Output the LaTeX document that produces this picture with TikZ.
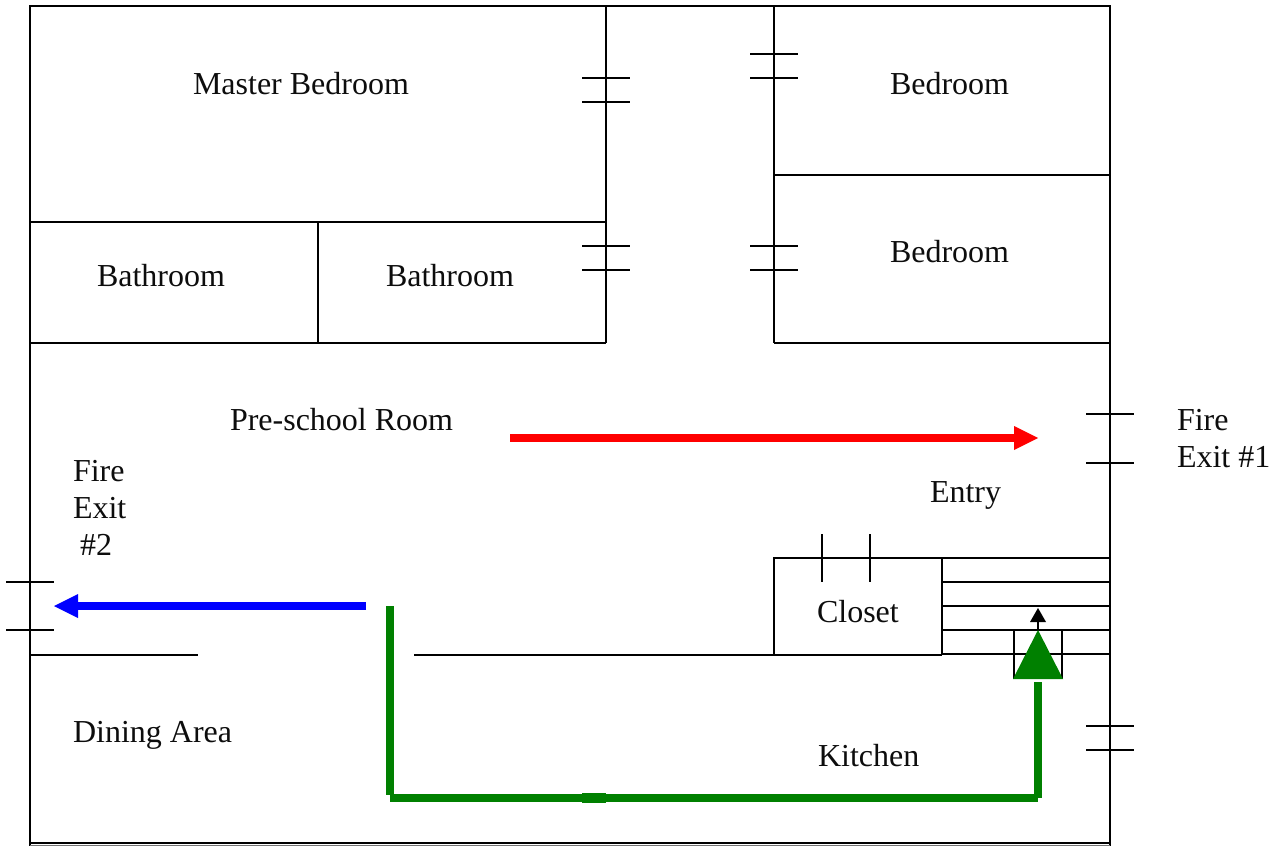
\documentclass[tikz,border=0pt]{standalone}
\usepackage{fontspec}
\setmainfont{Liberation Serif}
\tikzset{
  x=0.75pt,y=-0.75pt,
  wall/.style={draw=black,line width=1.5pt,line cap=butt},
  thin wall/.style={draw=black,line width=1pt},
  label/.style={anchor=base west,inner sep=0pt,outer sep=0pt,font=\fontsize{24}{24}\selectfont,text=black!95},
  route/.style={line width=#1,line cap=butt}
}
\definecolor{routegreen}{RGB}{0,128,0}
\begin{document}
\begin{tikzpicture}
\useasboundingbox (0,0) rectangle (1274,846);
\fill[white] (0,0) rectangle (1274,846);
% outer walls
\draw[wall] (30,6) -- (1110,6);
\draw[wall] (30,5) -- (30,846);
\draw[wall] (1110,5) -- (1110,846);
\draw[wall] (30,843) -- (1110,843);
\draw[draw=black!55,line width=0.8pt] (30,845.5) -- (1110,845.5);
% rooms
\draw[wall] (30,222) -- (606,222);
\draw[wall] (606,6) -- (606,343);
\draw[wall] (30,343) -- (606,343);
\draw[wall] (318,222) -- (318,343);
\draw[wall] (774,6) -- (774,343);
\draw[wall] (774,175) -- (1110,175);
\draw[wall] (774,343) -- (1110,343);
% closet and stairs
\draw[wall] (774,655) -- (774,558) -- (1110,558);
\draw[wall] (942,558) -- (942,582);
\draw[thin wall] (942,582) -- (942,655);
\draw[wall] (30,655) -- (198,655);
\draw[wall] (414,655) -- (798,655);
\draw[thin wall] (798,655) -- (942,655);
\foreach \yy in {582,606,630,654} \draw[wall] (942,\yy) -- (1110,\yy);
% doors
\foreach \xa/\ya in {582/78,582/102,582/246,582/270,750/54,750/78,750/246,750/270,1086/414,1086/463,1086/726,1086/750}
  \draw[wall] (\xa,\ya) -- +(48,0);
\foreach \xa/\ya in {6/582,6/630}
  \draw[wall] (\xa,\ya) -- +(48,0);
\draw[wall] (822,534) -- (822,582);
\draw[wall] (870,534) -- (870,582);
% routes
\draw[red,route=6pt] (510,438) -- (1016,438);
\fill[red] (1038,438) -- (1014,426) -- (1014,450) -- cycle;
\draw[blue,route=6pt] (366,606) -- (76,606);
\fill[blue] (54,606) -- (78,594) -- (78,618) -- cycle;
\draw[routegreen,route=5.5pt] (390,606) -- (390,795);
\draw[routegreen,route=6pt] (390,798) -- (1038,798);
\draw[routegreen,route=7pt] (582,798) -- (606,798);
\draw[routegreen,route=5.5pt] (1038,682) -- (1038,798);
% stair arrow
\draw[wall] (1014,679) -- (1014,630) -- (1062,630) -- (1062,679);
\draw[black,line width=1.5pt] (1038,630) -- (1038,620);
\fill[black] (1038,608) -- (1030,622) -- (1046,622) -- cycle;
\fill[routegreen] (1038,630) -- (1013,679) -- (1063,679) -- cycle;
% labels
\node[label] (master) at (193,94) {Master Bedroom};
\node[label] (bed1) at (890,94) {Bedroom};
\node[label] (bed2) at (890,262) {Bedroom};
\node[label] (bath1) at (97,286) {Bathroom};
\node[label] (bath2) at (386,286) {Bathroom};
\node[label] (pre) at (230,430) {Pre-school Room};
\node[label] (fire1a) at (1177,430) {Fire};
\node[label] (fire1b) at (1177,467) {Exit \#1};
\node[label] (entry) at (930,502) {Entry};
\node[label] (fire2a) at (73,481) {Fire};
\node[label] (fire2b) at (73,518) {Exit};
\node[label] (fire2c) at (80,555) {\#2};
\node[label] (closet) at (817,622) {Closet};
\node[label] (dining) at (73,742) {Dining Area};
\node[label] (kitchen) at (818,766) {Kitchen};
\end{tikzpicture}
\end{document}
